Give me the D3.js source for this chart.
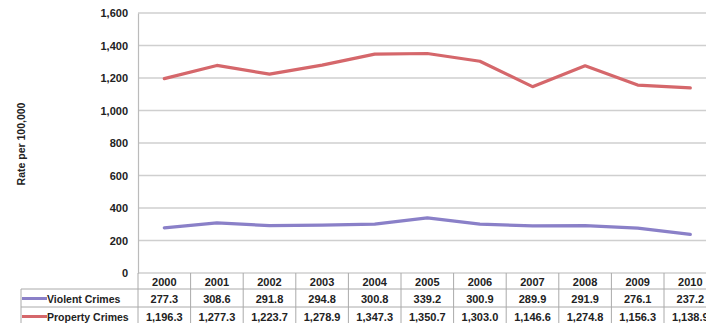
<!DOCTYPE html>
<html><head><meta charset="utf-8">
<script src="https://cdn.jsdelivr.net/npm/d3@7"></script>
<style>body{margin:0;background:#fff;}svg{display:block;font-family:Arial,"Liberation Sans",sans-serif;}</style>
</head><body><svg id="c" width="706" height="323"></svg>
<script>
const years = ["2000","2001","2002","2003","2004","2005","2006","2007","2008","2009","2010"];
const violent = [277.3,308.6,291.8,294.8,300.8,339.2,300.9,289.9,291.9,276.1,237.2];
const property = [1196.3,1277.3,1223.7,1278.9,1347.3,1350.7,1303.0,1146.6,1274.8,1156.3,1138.9];
const yTicks = [0,200,400,600,800,1000,1200,1400,1600];
const seriesNames = ["Violent Crimes","Property Crimes"];
const seriesColors = ["#8a80c8","#d5676b"];

const svg = d3.select("#c");
const x = d3.scaleBand().domain(years).range([138, 138 + 11*52.6]);
const y = d3.scaleLinear().domain([0,1600]).range([273,13]);
const fmt = d3.format(",.1f");

// gridlines
svg.append("g").selectAll("line").data(yTicks).join("line")
  .attr("x1",138).attr("x2",706).attr("y1",d=>y(d)).attr("y2",d=>y(d))
  .attr("stroke","#cfcfcf").attr("stroke-width",1.5);
// y axis
const yAxis = d3.axisLeft(y).tickValues(yTicks).tickSize(0).tickPadding(10).tickFormat(d3.format(","));
const ga = svg.append("g").attr("transform","translate(138,0)").call(yAxis);
ga.select(".domain").attr("stroke","#bbb").attr("stroke-width",1.2);
ga.selectAll("text").attr("font-size",11).attr("font-weight","bold").attr("fill","#222").attr("font-family","Arial, 'Liberation Sans', sans-serif");

svg.append("text").attr("transform","translate(25,144) rotate(-90)")
  .attr("text-anchor","middle").attr("font-size",10.5).attr("font-weight","bold").attr("fill","#222")
  .text("Rate per 100,000");

// lines
const line = d3.line().x((d,i)=>x(years[i])+x.bandwidth()/2).y(d=>y(d));
[violent, property].forEach((s,k)=>{
  svg.append("path").datum(s).attr("d",line).attr("fill","none")
    .attr("stroke",seriesColors[k]).attr("stroke-width",3.2).attr("stroke-linejoin","round").attr("stroke-linecap","round");
});

// data table
const tg = svg.append("g");
tg.selectAll("line.v").data(d3.range(years.length+1)).join("line")
  .attr("x1",i=>138+i*x.bandwidth()).attr("x2",i=>138+i*x.bandwidth())
  .attr("y1",273).attr("y2",323).attr("stroke","#aaa").attr("stroke-width",1);
tg.append("line").attr("x1",21).attr("x2",21).attr("y1",289).attr("y2",323).attr("stroke","#aaa");
[289,307].forEach(v=>tg.append("line").attr("x1",21).attr("x2",706).attr("y1",v).attr("y2",v).attr("stroke","#aaa"));

tg.selectAll("text.yr").data(years).join("text")
  .attr("x",d=>x(d)+x.bandwidth()/2).attr("y",285.5).attr("text-anchor","middle")
  .attr("font-size",11).attr("font-weight","bold").attr("fill","#222").text(d=>d);
[violent, property].forEach((s,k)=>{
  const by = k===0 ? 302.5 : 320.5;
  tg.selectAll("text.v"+k).data(s).join("text")
    .attr("x",(d,i)=>x(years[i])+x.bandwidth()/2).attr("y",by).attr("text-anchor","middle")
    .attr("font-size",11).attr("font-weight","bold").attr("fill","#222").text(d=>fmt(d));
  tg.append("line").attr("x1",22).attr("x2",47).attr("y1",by-4).attr("y2",by-4)
    .attr("stroke",seriesColors[k]).attr("stroke-width",3);
  tg.append("text").attr("x",47).attr("y",by).attr("font-size",10.5).attr("font-weight","bold")
    .attr("fill","#222").text(seriesNames[k]);
});
</script></body></html>
